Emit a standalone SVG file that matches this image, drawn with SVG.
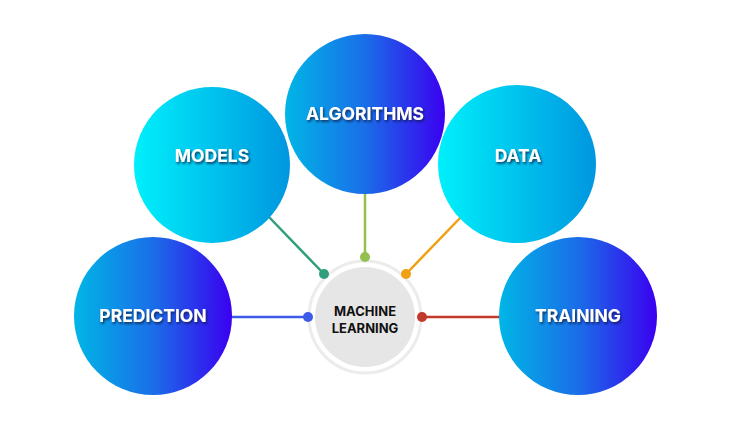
<svg xmlns="http://www.w3.org/2000/svg" width="729" height="429" viewBox="0 0 729 429">
  <defs>
    <linearGradient id="gCyan" x1="0" y1="0" x2="1" y2="0">
      <stop offset="0" stop-color="#00f0fb"/>
      <stop offset="1" stop-color="#0096e0"/>
    </linearGradient>
    <linearGradient id="gBlue" x1="0" y1="0" x2="1" y2="0">
      <stop offset="0" stop-color="#00b6e6"/>
      <stop offset="0.5" stop-color="#1a6ee8"/>
      <stop offset="1" stop-color="#3a00f0"/>
    </linearGradient>
    <filter id="shadow" x="-20%" y="-50%" width="140%" height="200%">
      <feDropShadow dx="1.2" dy="1.8" stdDeviation="1" flood-color="#0a1a3a" flood-opacity="0.8"/>
    </filter>
  </defs>
  <style>
    .lbl { font-family: "Inter", "Open Sans", "Liberation Sans", sans-serif; font-weight: 700; font-size: 17.5px; fill: #ffffff; text-anchor: middle; filter: url(#shadow); }
    .center { font-family: "Inter", "Open Sans", "Liberation Sans", sans-serif; font-weight: 700; font-size: 13px; fill: #111111; text-anchor: middle; }
    .conn line { stroke-width: 2.5; }
  </style>
  <rect width="729" height="429" fill="#ffffff"/>

  <g id="machine-learning">
    <circle cx="365" cy="317" r="56" fill="#ffffff" stroke="#ececec" stroke-width="3"/>
    <circle cx="365" cy="317" r="50" fill="#e6e6e6"/>
    <text class="center" x="365" y="316">MACHINE</text>
    <text class="center" x="365" y="333">LEARNING</text>
  </g>

  <g id="connectors" class="conn">
    <line x1="230" y1="317" x2="308" y2="317" stroke="#3d5be8"/>
    <circle cx="308" cy="317" r="5" fill="#3d5be8"/>
    <line x1="268" y1="216" x2="324" y2="274" stroke="#2e9e7c"/>
    <circle cx="324" cy="274" r="5" fill="#2e9e7c"/>
    <line x1="365" y1="194" x2="365" y2="257" stroke="#93c04f"/>
    <circle cx="365" cy="257" r="5" fill="#93c04f"/>
    <line x1="462" y1="216" x2="406" y2="274" stroke="#f0a013"/>
    <circle cx="406" cy="274" r="5" fill="#f0a013"/>
    <line x1="500" y1="317" x2="422" y2="317" stroke="#c0392b"/>
    <circle cx="422" cy="317" r="5" fill="#c0392b"/>
  </g>

  <g id="prediction">
    <circle cx="153" cy="316" r="79" fill="url(#gBlue)"/>
    <text class="lbl" x="153" y="322">PREDICTION</text>
  </g>

  <g id="models">
    <circle cx="212" cy="165" r="78" fill="url(#gCyan)"/>
    <text class="lbl" x="212" y="162">MODELS</text>
  </g>

  <g id="algorithms">
    <circle cx="365" cy="114" r="80" fill="url(#gBlue)"/>
    <text class="lbl" x="365" y="120">ALGORITHMS</text>
  </g>

  <g id="data">
    <circle cx="517" cy="164" r="79" fill="url(#gCyan)"/>
    <text class="lbl" x="518" y="162">DATA</text>
  </g>

  <g id="training">
    <circle cx="578" cy="316" r="79" fill="url(#gBlue)"/>
    <text class="lbl" x="578" y="322">TRAINING</text>
  </g>
</svg>
